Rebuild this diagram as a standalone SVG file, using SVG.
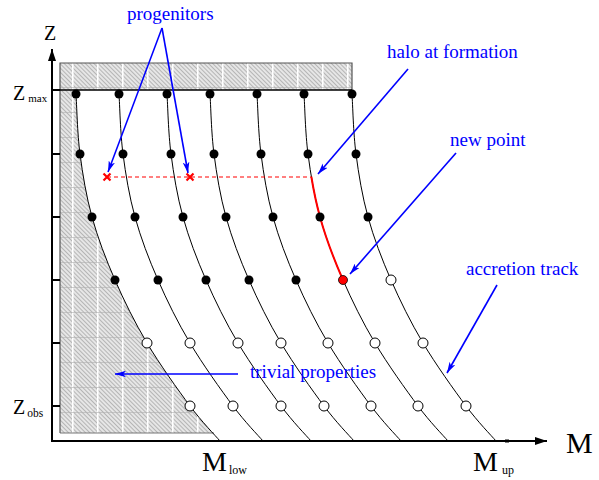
<svg xmlns="http://www.w3.org/2000/svg" xmlns:xlink="http://www.w3.org/1999/xlink" width="599" height="480" viewBox="0 0 599 480">
<style>
.trk{fill:none;stroke:#000;stroke-width:1}
.f{fill:#000}
.o{fill:#fff;stroke:#000;stroke-width:1}
.ax{stroke:#000;stroke-width:2;fill:none}
.bl{stroke:#0000ff;stroke-width:1.6;fill:none;marker-end:url(#ab)}
.bt{font-family:"Liberation Serif","Times New Roman",serif;font-size:19px;fill:#0000ff}
.lt{font-family:"Liberation Serif","Times New Roman",serif;fill:#000}
</style>
<defs>
<pattern id="hatch" width="3" height="3" patternUnits="userSpaceOnUse" patternTransform="rotate(-45)">
<rect width="3" height="3" fill="#e6e6e6"/>
<line x1="0" y1="0" x2="0" y2="3" stroke="#8c8c8c" stroke-width="1.1"/>
</pattern>
<pattern id="grid" x="72" y="12" width="25" height="25" patternUnits="userSpaceOnUse">
<line x1="0.75" y1="0" x2="0.75" y2="25" stroke="#fff" stroke-width="1.6"/>
<line x1="0" y1="0.4" x2="25" y2="0.4" stroke="#b0b0b0" stroke-width="0.7"/>
</pattern>
<clipPath id="clipH"><rect x="0" y="0" width="599" height="433"/></clipPath>
<marker id="ab" viewBox="0 0 10 6" refX="10" refY="3" markerWidth="11" markerHeight="7" markerUnits="userSpaceOnUse" orient="auto">
<path d="M0,0 L10,3 L0,6 L2.5,3 z" fill="#0000ff"/>
</marker>
<marker id="ak" viewBox="0 0 12 8" refX="12" refY="4" markerWidth="12" markerHeight="8" markerUnits="userSpaceOnUse" orient="auto">
<path d="M0,0 L12,4 L0,8 z" fill="#000"/>
</marker>
<path id="trk" class="trk" d="M76,94 C76.7,104 77.3,133.5 80,154 C82.7,174.5 86.2,196 92,217 C97.8,238 105.8,259 115,280 C124.2,301 134.5,322 147,343 C159.5,364 177.8,389.7 190,406 C202.2,422.3 215,435.2 220,441"/>
</defs>

<g id="excluded-region">
<g clip-path="url(#clipH)">
<path d="M60,63 H352 V90 H76 V94 C76.7,104 77.3,133.5 80,154 C82.7,174.5 86.2,196 92,217 C97.8,238 105.8,259 115,280 C124.2,301 134.5,322 147,343 C159.5,364 177.8,389.7 190,406 C202.2,422.3 215,435.2 220,441 L60,441 Z" fill="url(#hatch)"/>
<path d="M60,63 H352 V90 H76 V94 C76.7,104 77.3,133.5 80,154 C82.7,174.5 86.2,196 92,217 C97.8,238 105.8,259 115,280 C124.2,301 134.5,322 147,343 C159.5,364 177.8,389.7 190,406 C202.2,422.3 215,435.2 220,441 L60,441 Z" fill="url(#grid)"/>
</g>
<path d="M60,433 V63 H352 V90" fill="none" stroke="#555" stroke-width="1.2"/>
<line x1="60" y1="433" x2="214" y2="433" stroke="#777" stroke-width="1.2"/>
<line x1="52" y1="90" x2="352" y2="90" stroke="#000" stroke-width="1.6"/>
</g>

<g id="axes">
<line class="ax" x1="52" y1="441" x2="52" y2="49" marker-end="url(#ak)"/>
<line class="ax" x1="51" y1="441" x2="547" y2="441" marker-end="url(#ak)"/>
<g stroke="#000" stroke-width="2">
<line x1="52" y1="90" x2="60" y2="90"/>
<line x1="52" y1="154" x2="60" y2="154"/>
<line x1="52" y1="217" x2="60" y2="217"/>
<line x1="52" y1="280" x2="60" y2="280"/>
<line x1="52" y1="343" x2="60" y2="343"/>
<line x1="52" y1="406" x2="60" y2="406"/>
</g>
<line x1="505" y1="441" x2="509" y2="441" stroke="#000" stroke-width="3"/>
</g>

<g id="tracks">
<g id="track1">
<use xlink:href="#trk"/>
<circle class="f" cx="76" cy="94" r="4.5"/><circle class="f" cx="80" cy="154" r="4.5"/><circle class="f" cx="92" cy="217" r="4.5"/><circle class="f" cx="115" cy="280" r="4.5"/><circle class="o" cx="147" cy="343" r="5"/><circle class="o" cx="190" cy="406" r="5"/>
</g>
<g id="track2" transform="translate(43,0)">
<use xlink:href="#trk"/>
<circle class="f" cx="76" cy="94" r="4.5"/><circle class="f" cx="80" cy="154" r="4.5"/><circle class="f" cx="92" cy="217" r="4.5"/><circle class="f" cx="115" cy="280" r="4.5"/><circle class="o" cx="147" cy="343" r="5"/><circle class="o" cx="190" cy="406" r="5"/>
</g>
<g id="track3" transform="translate(91,0)">
<use xlink:href="#trk"/>
<circle class="f" cx="76" cy="94" r="4.5"/><circle class="f" cx="80" cy="154" r="4.5"/><circle class="f" cx="92" cy="217" r="4.5"/><circle class="f" cx="115" cy="280" r="4.5"/><circle class="o" cx="147" cy="343" r="5"/><circle class="o" cx="190" cy="406" r="5"/>
</g>
<g id="track4" transform="translate(134,0)">
<use xlink:href="#trk"/>
<circle class="f" cx="76" cy="94" r="4.5"/><circle class="f" cx="80" cy="154" r="4.5"/><circle class="f" cx="92" cy="217" r="4.5"/><circle class="f" cx="115" cy="280" r="4.5"/><circle class="o" cx="147" cy="343" r="5"/><circle class="o" cx="190" cy="406" r="5"/>
</g>
<g id="track5" transform="translate(181,0)">
<use xlink:href="#trk"/>
<circle class="f" cx="76" cy="94" r="4.5"/><circle class="f" cx="80" cy="154" r="4.5"/><circle class="f" cx="92" cy="217" r="4.5"/><circle class="f" cx="115" cy="280" r="4.5"/><circle class="o" cx="147" cy="343" r="5"/><circle class="o" cx="190" cy="406" r="5"/>
</g>
<g id="track6" transform="translate(228,0)">
<use xlink:href="#trk"/>
<path d="M83.35,176.78 C85.56,190.13 88.32,203.67 92,217 C97.8,238 105.8,259 115,280" fill="none" stroke="#ff0000" stroke-width="2"/>
<circle class="f" cx="76" cy="94" r="4.5"/><circle class="f" cx="80" cy="154" r="4.5"/><circle class="f" cx="92" cy="217" r="4.5"/><circle cx="115" cy="280" r="4.5" fill="#ff0000" stroke="#000" stroke-width="0.8"/><circle class="o" cx="147" cy="343" r="5"/><circle class="o" cx="190" cy="406" r="5"/>
</g>
<g id="track7" transform="translate(276,0)">
<use xlink:href="#trk"/>
<circle class="f" cx="76" cy="94" r="4.5"/><circle class="f" cx="80" cy="154" r="4.5"/><circle class="f" cx="92" cy="217" r="4.5"/><circle class="o" cx="115" cy="280" r="5"/><circle class="o" cx="147" cy="343" r="5"/><circle class="o" cx="190" cy="406" r="5"/>
</g>
</g>

<g id="progenitor-link">
<line x1="107" y1="177" x2="311.4" y2="177" stroke="#ff0000" stroke-width="1.2" stroke-dasharray="4,3"/>
<g stroke="#ff0000" stroke-width="2.2">
<path d="M103.5,173.5 L110.5,180.5 M110.5,173.5 L103.5,180.5"/>
<path d="M186.5,173.5 L193.5,180.5 M193.5,173.5 L186.5,180.5"/>
</g>
</g>

<g id="connectors">
<line class="bl" x1="162" y1="28" x2="108" y2="172"/>
<line class="bl" x1="162" y1="28" x2="188" y2="173"/>
<line class="bl" x1="408" y1="69" x2="318" y2="174"/>
<line class="bl" x1="456" y1="153" x2="350" y2="274"/>
<line class="bl" x1="497" y1="285" x2="447" y2="373" stroke-width="1.2"/>
<line class="bl" x1="238" y1="374" x2="115" y2="374"/>
</g>

<g id="labels">
<text class="bt" x="127" y="20">progenitors</text>
<text class="bt" x="387" y="58">halo at formation</text>
<text class="bt" x="450" y="146">new point</text>
<text class="bt" x="466" y="275">accretion track</text>
<text class="bt" x="250" y="378">trivial properties</text>
<text class="lt" x="44" y="40" font-size="20">Z</text>
<text class="lt" x="13" y="100" font-size="20">Z<tspan font-size="11" dx="3" dy="2">max</tspan></text>
<text class="lt" x="13" y="414" font-size="20">Z<tspan font-size="11.5" dx="2" dy="3">obs</tspan></text>
<text class="lt" x="202" y="471" font-size="28">M<tspan font-size="12" dx="2" dy="3">low</tspan></text>
<text class="lt" x="473" y="471" font-size="28">M<tspan font-size="12" dx="4" dy="3">up</tspan></text>
<text class="lt" x="566" y="453" font-size="30">M</text>
</g>
</svg>
